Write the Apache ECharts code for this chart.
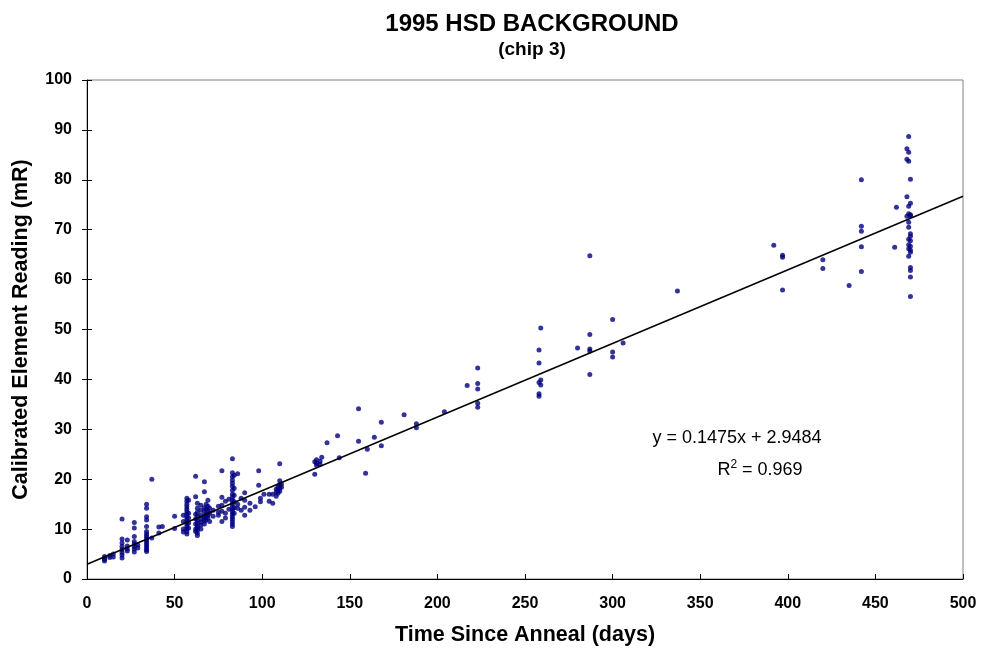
<!DOCTYPE html>
<html>
<head>
<meta charset="utf-8">
<script src="https://cdn.jsdelivr.net/npm/echarts@6/dist/echarts.min.js"></script>
<style>
html,body{margin:0;padding:0;background:#fff;}
#main{width:982px;height:654px;}
</style>
</head>
<body>
<div id="main"></div>
<script>
// Days since anneal (one entry per column of points)
const days = [10, 13, 15, 20, 23, 27, 29, 34, 37, 41, 43, 50, 55, 57, 58, 62, 63, 65, 67, 68, 69, 70, 72, 75, 77, 79, 81, 83, 84, 86, 88, 90, 93, 96, 98, 99, 101, 104, 106, 108, 109, 110, 111, 130, 131, 133, 134, 137, 143, 144, 155, 159, 160, 164, 168, 181, 188, 204, 217, 223, 258, 259, 280, 287, 300, 306, 337, 392, 397, 420, 435, 442, 461, 462, 468, 469, 470];
// Calibrated element readings (mR) for each day above
const readings = [
  [3.6, 3.9, 4.2, 4.5],
  [4.3, 4.7],
  [4.4, 5.0],
  [12.0, 8.0, 7.2, 6.5, 5.9, 5.3, 4.8, 4.2],
  [7.8, 6.6, 6.0, 5.6],
  [11.3, 10.2, 8.5, 7.5, 7.0, 6.5, 6.0, 5.4],
  [6.8, 6.2],
  [15.0, 14.2, 12.5, 11.8, 10.5, 9.5, 9.0, 8.6, 8.2, 7.8, 7.4, 7.0, 6.6, 6.2, 5.8, 5.5],
  [20.0, 8.2],
  [9.2, 10.4],
  [10.5],
  [12.6, 10.1],
  [12.8, 11.5, 10.0, 9.4],
  [16.2, 15.6, 15.0, 14.5, 14.0, 13.5, 13.0, 12.5, 12.0, 11.5, 11.0, 10.5, 10.0, 9.5, 9.0],
  [15.8, 13.2, 12.2, 11.2, 10.2],
  [20.6, 16.5, 13.0, 12.0, 11.0, 10.0, 9.5],
  [15.2, 14.2, 13.4, 12.6, 11.8, 11.2, 10.6, 10.2, 9.8, 9.2, 8.7],
  [14.8, 13.8, 12.8, 12.0, 11.4, 10.8, 10.0],
  [19.5, 17.5, 14.3, 13.5, 12.6, 12.1, 11.6, 11.0],
  [15.0, 14.0, 13.0, 12.4, 11.8],
  [15.8, 14.6, 13.6, 12.8, 12.2],
  [14.2, 13.2, 11.5],
  [13.8, 12.6],
  [12.8, 14.6, 13.4],
  [21.7, 16.4, 14.8, 13.6, 11.5],
  [15.6, 13.2, 12.2],
  [16.0, 14.0],
  [24.1, 21.3, 20.5, 19.8, 19.2, 18.6, 17.8, 17.0, 16.4, 15.8, 15.2, 14.6, 14.0, 13.5, 13.0, 12.5, 12.0, 11.5, 11.0, 10.5],
  [20.8, 18.2, 16.8, 15.5, 14.3, 13.2],
  [21.1, 15.0, 14.2],
  [16.2, 13.8],
  [17.3, 15.8, 14.4, 12.8],
  [13.8, 15.2],
  [14.5],
  [21.7, 18.8],
  [16.2, 15.5],
  [17.0],
  [15.6, 17.0],
  [17.0, 15.2],
  [18.0, 17.4, 16.6],
  [18.5, 17.8, 17.2],
  [23.1, 19.7, 18.9, 18.2, 17.6],
  [19.0, 18.4],
  [23.5, 21.0],
  [23.9, 23.2, 22.8],
  [23.6, 23.0],
  [24.4],
  [27.3],
  [28.7],
  [24.3],
  [34.1, 27.6],
  [21.2],
  [26.0],
  [28.4],
  [31.4, 26.7],
  [32.9],
  [31.1, 30.3],
  [33.5],
  [38.8],
  [42.3, 39.2, 38.1, 35.2, 34.4],
  [45.9, 43.3, 39.4, 37.1, 36.6],
  [50.3, 39.9, 38.9],
  [46.3],
  [64.8, 49.0, 46.1, 45.7, 41.0],
  [52.0, 45.5, 44.5],
  [47.3],
  [57.7],
  [66.9],
  [64.9, 64.5, 57.9],
  [64.0, 62.2],
  [58.8],
  [80.0, 70.7, 69.7, 66.6, 61.6],
  [66.5],
  [74.5],
  [86.2, 84.1, 76.6, 72.7],
  [88.7, 85.5, 83.7, 74.7, 73.2, 71.5, 70.5, 68.1, 67.0, 66.2, 64.7],
  [80.1, 75.3, 73.0, 72.8, 69.2, 68.7, 67.8, 66.7, 65.9, 65.5, 62.4, 61.8, 60.5, 56.6]
];
// Linear trend line y = 0.1475x + 2.9484 (end points)
const trendX = [0, 500];
const trendY = [2.9484, 76.6984];
const equationText = 'y = 0.1475x + 2.9484';
const r2Value = '0.969';

const points = [];
days.forEach((d, i) => readings[i].forEach(v => points.push([d, v])));
const trend = trendX.map((x, i) => [x, trendY[i]]);

const FONT = '"Liberation Sans", Arial, sans-serif';
const chart = echarts.init(document.getElementById('main'));
chart.setOption({
  animation: false,
  backgroundColor: '#fff',
  title: [
    {text: '1995 HSD BACKGROUND', left: 527, top: 7, textAlign: 'center',
     textStyle: {fontFamily: FONT, fontSize: 24, fontWeight: 'bold', color: '#000'}},
    {text: '(chip 3)', left: 527, top: 35, textAlign: 'center',
     textStyle: {fontFamily: FONT, fontSize: 19, fontWeight: 'bold', color: '#000'}}
  ],
  grid: {left: 87, right: 19, top: 80, bottom: 75, show: true, borderColor: '#808080', borderWidth: 1, backgroundColor: 'transparent'},
  xAxis: [{
    type: 'value', min: 0, max: 500, interval: 50,
    axisLine: {show: true, lineStyle: {color: '#000', width: 1}},
    axisTick: {show: true, inside: true, length: 5, lineStyle: {color: '#000'}},
    axisLabel: {margin: 17, color: '#000', fontFamily: FONT, fontSize: 16, fontWeight: 'bold'},
    splitLine: {show: false},
    name: 'Time Since Anneal (days)', nameLocation: 'middle', nameGap: 45,
    nameTextStyle: {color: '#000', fontFamily: FONT, fontSize: 21.5, fontWeight: 'bold'}
  }],
  yAxis: [{
    type: 'value', min: 0, max: 100, interval: 10,
    axisLine: {show: true, lineStyle: {color: '#000', width: 1}},
    axisTick: {show: true, inside: false, length: 5, lineStyle: {color: '#000'}},
    axisLabel: {margin: 15, color: '#000', fontFamily: FONT, fontSize: 16, fontWeight: 'bold'},
    splitLine: {show: false},
    name: 'Calibrated Element Reading (mR)', nameLocation: 'middle', nameGap: 55, nameRotate: 90,
    nameTextStyle: {color: '#000', fontFamily: FONT, fontSize: 21.5, fontWeight: 'bold'}
  }, {
    type: 'value', min: 0, max: 100, interval: 10, position: 'left',
    axisLine: {show: false},
    axisTick: {show: true, inside: true, length: 5, lineStyle: {color: '#000'}},
    axisLabel: {show: false},
    splitLine: {show: false}
  }],
  series: [
    {type: 'scatter', data: points, symbol: 'circle', symbolSize: 5,
     itemStyle: {color: '#000080'}, z: 3},
    {type: 'line', data: trend, symbol: 'none', lineStyle: {color: '#000', width: 1.5}, z: 4, silent: true}
  ],
  graphic: [
    {type: 'text', x: 737, y: 438, style: {text: equationText, align: 'center', verticalAlign: 'middle',
      fontFamily: FONT, fontSize: 18, fill: '#000'}},
    {type: 'text', x: 760, y: 470, style: {
      text: '{a|R}{s|2}{a| = ' + r2Value + '}', align: 'center', verticalAlign: 'middle',
      rich: {
        a: {fontFamily: FONT, fontSize: 18, fill: '#000', color: '#000', lineHeight: 22},
        s: {fontFamily: FONT, fontSize: 12, fill: '#000', color: '#000', lineHeight: 22, padding: [0, 0, 10, 0]}
      }}}
  ]
});
</script>
</body>
</html>
